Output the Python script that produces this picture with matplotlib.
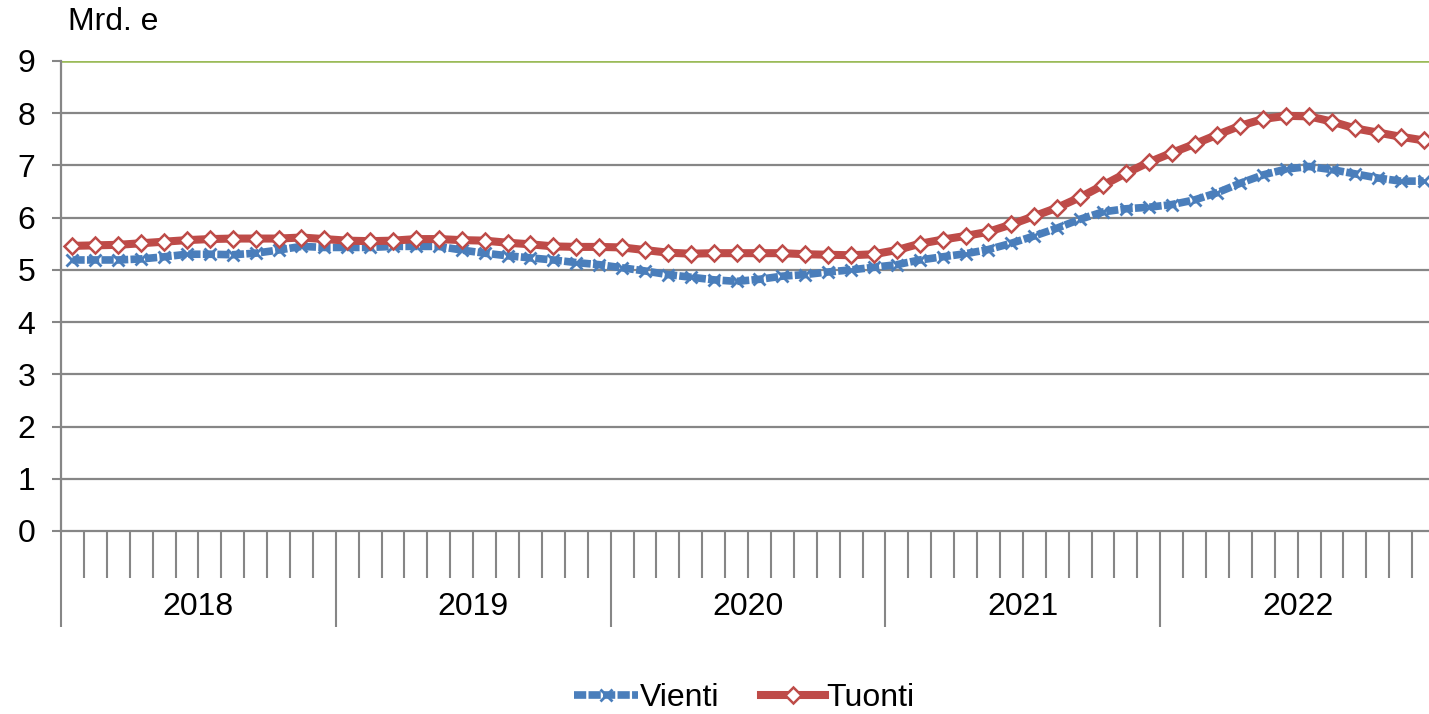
import numpy as np
import matplotlib.pyplot as plt
from matplotlib import transforms

plt.rcParams['font.family'] = ['Liberation Sans', 'DejaVu Sans']

years = ['2018', '2019', '2020', '2021', '2022']
months_per_year = 12

# monthly values, Mrd. e
vienti = [5.19, 5.19, 5.19, 5.21, 5.25, 5.30, 5.30, 5.29, 5.32, 5.38,
          5.45, 5.43, 5.43, 5.43, 5.45, 5.45, 5.45, 5.38, 5.32, 5.27,
          5.23, 5.19, 5.14, 5.10, 5.04, 4.98, 4.91, 4.86, 4.81, 4.78,
          4.82, 4.88, 4.91, 4.96, 5.00, 5.05, 5.10, 5.19, 5.25, 5.31,
          5.39, 5.51, 5.65, 5.80, 5.97, 6.11, 6.17, 6.20, 6.25, 6.34,
          6.48, 6.66, 6.82, 6.93, 6.98, 6.92, 6.84, 6.76, 6.70, 6.70]
tuonti = [5.46, 5.47, 5.48, 5.51, 5.54, 5.57, 5.59, 5.60, 5.60, 5.60,
          5.62, 5.59, 5.56, 5.55, 5.56, 5.59, 5.59, 5.57, 5.56, 5.52,
          5.49, 5.45, 5.44, 5.44, 5.43, 5.38, 5.33, 5.31, 5.32, 5.32,
          5.32, 5.32, 5.30, 5.29, 5.28, 5.30, 5.38, 5.50, 5.58, 5.65,
          5.73, 5.87, 6.03, 6.19, 6.39, 6.62, 6.85, 7.06, 7.24, 7.41,
          7.59, 7.76, 7.89, 7.95, 7.94, 7.84, 7.71, 7.63, 7.55, 7.48]

blue = '#4A7EBB'
red = '#BE4B48'
gray = '#868686'
fs = 23

n = len(vienti)
x = np.arange(n)

fig = plt.figure(figsize=(14.29, 7.14), dpi=100)
ax = fig.add_axes([61/1429, 183/714, (1435-61)/1429, 470/714])

ax.plot(x, vienti, color=blue, lw=5.5, linestyle=(0, (1.6, 0.3)),
        dash_capstyle='butt', marker='x', ms=9, mew=2, label='Vienti', zorder=3)
ax.plot(x, tuonti, color=red, lw=5.8, marker='D', ms=8, mfc='white',
        mec=red, mew=1.8, label='Tuonti', zorder=4)

ax.set_xlim(-0.5, n - 0.5)
ax.set_ylim(0, 9)
ax.set_yticks(range(10))

for v in range(1, 9):
    ax.axhline(v, color=gray, lw=1.6, zorder=1)
ax.axhline(9, color='#9BBB59', lw=2.6, zorder=1)

for s in ['top', 'right']:
    ax.spines[s].set_visible(False)
for s in ['left', 'bottom']:
    ax.spines[s].set_color(gray)
    ax.spines[s].set_linewidth(1.6)

year_edges = [i * months_per_year - 0.5 for i in range(len(years) + 1)]
month_edges = [k - 0.5 for k in range(1, n) if k % months_per_year != 0]
ax.set_xticks(year_edges)
ax.set_xticks(month_edges, minor=True)
ax.tick_params(axis='x', which='major', length=69, width=1.5, color=gray, labelbottom=False)
ax.tick_params(axis='x', which='minor', length=34, width=1.5, color=gray)
ax.tick_params(axis='y', length=6.5, width=1.5, color=gray, labelsize=fs, pad=12)

trans = transforms.blended_transform_factory(ax.transData, ax.transAxes)
for i, yr in enumerate(years):
    ax.text(i * months_per_year + 5.5, -76/470, yr, transform=trans,
            ha='center', va='center', fontsize=fs)

fig.text(68/1429, 1 - 22/714, 'Mrd. e', fontsize=fs, ha='left', va='center')

fig.legend(loc='center', bbox_to_anchor=(0.521, 16/714), ncol=2, frameon=False,
           fontsize=fs, handlelength=2.0, handletextpad=0.05, columnspacing=1.3)

fig.savefig('out.png', dpi=100)
